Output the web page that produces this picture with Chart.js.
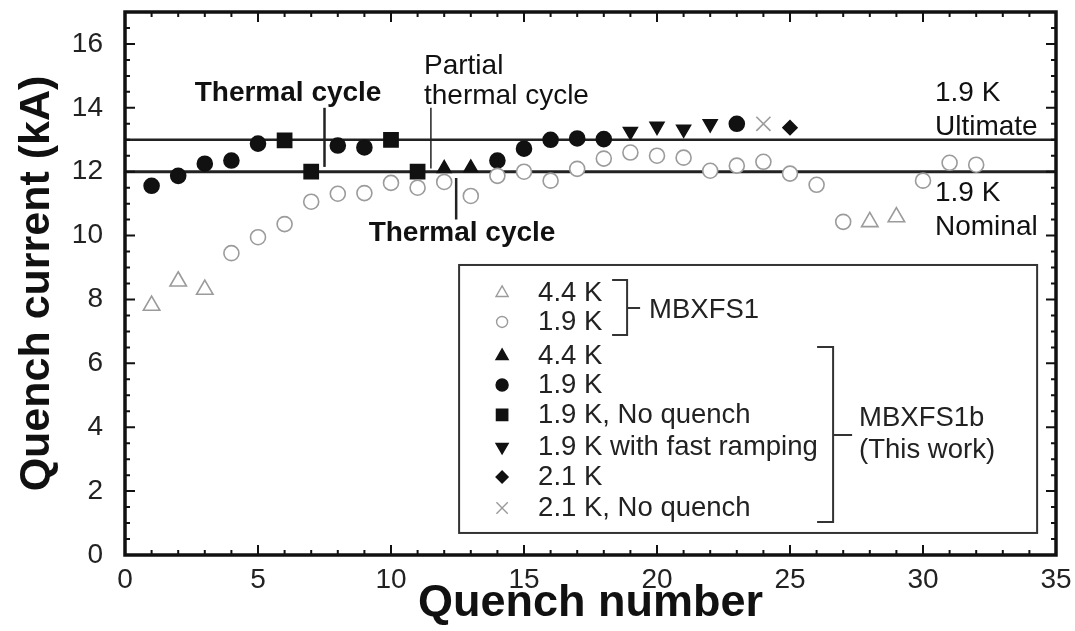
<!DOCTYPE html>
<html>
<head>
<meta charset="utf-8">
<script src="https://cdn.jsdelivr.net/npm/chart.js@4.4.1/dist/chart.umd.min.js"></script>
<style>
  html, body { margin: 0; padding: 0; background: #fff; }
  #wrap { width: 1075px; height: 631px; }
</style>
</head>
<body>
<div id="wrap"><canvas id="quenchChart" width="1075" height="631"></canvas></div>
<script>
var FONT = "'Liberation Sans', Arial, Helvetica, sans-serif";
var GREY = '#9b9b9b';
var INK = '#111';

// MBXFS1 (grey, open markers) : [quench number, current kA]
var fs1_44K = [[1, 7.81], [2, 8.57], [3, 8.31], [28, 10.43], [29, 10.58]];
var fs1_19K = [[4, 9.45], [5, 9.95], [6, 10.36], [7, 11.06], [8, 11.31], [9, 11.33],
               [10, 11.65], [11, 11.5], [12, 11.68], [13, 11.24], [14, 11.87], [15, 12.0],
               [16, 11.72], [17, 12.09], [18, 12.41], [19, 12.6], [20, 12.5], [21, 12.44],
               [22, 12.03], [23, 12.19], [24, 12.31], [25, 11.94], [26, 11.59], [27, 10.43],
               [30, 11.72], [31, 12.28], [32, 12.22]];

// MBXFS1b (this work, black markers)
var fs1b_44K = [[12, 12.1], [13, 12.12]];
var fs1b_19K = [[1, 11.56], [2, 11.87], [3, 12.25], [4, 12.35], [5, 12.88], [8, 12.82],
                [9, 12.76], [14, 12.35], [15, 12.72], [16, 13.0], [17, 13.04], [18, 13.02], [23, 13.5]];
var fs1b_19K_noQuench = [[6, 12.98], [7, 12.0], [10, 13.0], [11, 12.0]];
var fs1b_19K_fast = [[19, 13.26], [20, 13.42], [21, 13.33], [22, 13.5]];
var fs1b_21K = [[25, 13.38]];
var fs1b_21K_noQuench = [[24, 13.5]];

// reference levels (kA) and thermal cycle markers (quench number)
var nominal = 12.0;
var ultimate = 13.0;
var thermalCycle = 7.5;
var partialCycle = 11.5;
var thermalCycle2 = 12.45;

var xTicks = [0, 5, 10, 15, 20, 25, 30, 35];
var yTicks = [0, 2, 4, 6, 8, 10, 12, 14, 16];

function pts(arr) {
    return arr.map(function (p) { return { x: p[0], y: p[1] }; });
}

function markers(label, arr, style, r, color, fill, rot) {
    return {
        label: label,
        data: pts(arr),
        pointStyle: style,
        pointRadius: r,
        pointRotation: rot || 0,
        pointBorderWidth: 1.6,
        pointBorderColor: color,
        pointBackgroundColor: fill,
        showLine: false,
        order: 1
    };
}

function refLine(x0, y0, x1, y1, w) {
    return {
        type: 'line',
        data: [{ x: x0, y: y0 }, { x: x1, y: y1 }],
        borderColor: '#222',
        borderWidth: w,
        pointRadius: 0,
        order: 5
    };
}

var datasets = [
    markers('MBXFS1 4.4 K', fs1_44K, 'triangle', 9.5, GREY, '#fff'),
    markers('MBXFS1 1.9 K', fs1_19K, 'circle', 7.5, GREY, '#fff'),
    markers('4.4 K', fs1b_44K, 'triangle', 7.8, INK, INK),
    markers('1.9 K', fs1b_19K, 'circle', 7.5, INK, INK),
    markers('1.9 K, No quench', fs1b_19K_noQuench, 'rect', 10, INK, INK),
    markers('1.9 K with fast ramping', fs1b_19K_fast, 'triangle', 8, INK, INK, 180),
    markers('2.1 K', fs1b_21K, 'rectRot', 7, INK, INK),
    markers('2.1 K, No quench', fs1b_21K_noQuench, 'crossRot', 10, GREY, GREY),
    refLine(0, ultimate, 35, ultimate, 2.5),
    refLine(0, nominal, 35, nominal, 3),
    refLine(thermalCycle, 12.15, thermalCycle, 14.0, 2.5),
    refLine(partialCycle, 12.1, partialCycle, 14.0, 1.5),
    refLine(thermalCycle2, 11.8, thermalCycle2, 10.5, 2.5)
];

// text notes placed in data units
var notes = [
    { text: 'Thermal cycle', x: 6.13, y: 14.46, bold: true, align: 'center' },
    { text: 'Partial', x: 11.24, y: 15.31, align: 'left' },
    { text: 'thermal cycle', x: 11.24, y: 14.37, align: 'left' },
    { text: 'Thermal cycle', x: 12.67, y: 10.08, bold: true, align: 'center' },
    { text: '1.9 K', x: 30.45, y: 14.46, align: 'left' },
    { text: 'Ultimate', x: 30.45, y: 13.4, align: 'left' },
    { text: '1.9 K', x: 30.45, y: 11.33, align: 'left' },
    { text: 'Nominal', x: 30.45, y: 10.27, align: 'left' }
];

var legendRows = [
    { text: '4.4 K', style: 'triangle', r: 7, color: GREY, fill: '#fff' },
    { text: '1.9 K', style: 'circle', r: 5.5, color: GREY, fill: '#fff' },
    { text: '4.4 K', style: 'triangle', r: 7, color: INK, fill: INK },
    { text: '1.9 K', style: 'circle', r: 6, color: INK, fill: INK },
    { text: '1.9 K, No quench', style: 'rect', r: 8, color: INK, fill: INK },
    { text: '1.9 K with fast ramping', style: 'triangle', r: 7, color: INK, fill: INK, rot: 180 },
    { text: '2.1 K', style: 'rectRot', r: 6, color: INK, fill: INK },
    { text: '2.1 K, No quench', style: 'crossRot', r: 8, color: GREY, fill: GREY }
];
var legendRowY = [28, 57, 91, 120, 150, 182, 212, 243];

var frameTicks = {
    id: 'frameTicks',
    afterDraw: function (chart) {
        var ctx = chart.ctx, a = chart.chartArea;
        var xs = chart.scales.x, ys = chart.scales.y;
        ctx.save();
        ctx.strokeStyle = INK;
        ctx.lineWidth = 2;
        ctx.beginPath();
        for (var i = xs.min; i <= xs.max; i++) {
            var px = xs.getPixelForValue(i), len = i % 5 === 0 ? 10 : 5;
            ctx.moveTo(px, a.bottom); ctx.lineTo(px, a.bottom - len);
            ctx.moveTo(px, a.top); ctx.lineTo(px, a.top + len);
        }
        for (var v = ys.min; v <= ys.max; v += 0.5) {
            var py = ys.getPixelForValue(v), l2 = v % 2 === 0 ? 10 : 5;
            ctx.moveTo(a.left, py); ctx.lineTo(a.left + l2, py);
            ctx.moveTo(a.right, py); ctx.lineTo(a.right - l2, py);
        }
        ctx.stroke();
        ctx.lineWidth = 3.5;
        ctx.strokeRect(a.left, a.top, a.right - a.left, a.bottom - a.top);
        ctx.restore();
    }
};

var notesPlugin = {
    id: 'notes',
    afterDraw: function (chart) {
        var ctx = chart.ctx, xs = chart.scales.x, ys = chart.scales.y;
        ctx.save();
        ctx.fillStyle = INK;
        ctx.textBaseline = 'middle';
        notes.forEach(function (n) {
            ctx.font = (n.bold ? 'bold 28px ' : '28px ') + FONT;
            ctx.textAlign = n.align;
            ctx.fillText(n.text, xs.getPixelForValue(n.x), ys.getPixelForValue(n.y));
        });
        ctx.restore();
    }
};

var legendPlugin = {
    id: 'bracketLegend',
    afterDraw: function (chart) {
        var ctx = chart.ctx, xs = chart.scales.x, ys = chart.scales.y;
        var left = xs.getPixelForValue(12.56), top = ys.getPixelForValue(9.08);
        var right = xs.getPixelForValue(34.29), bottom = ys.getPixelForValue(0.69);
        ctx.save();
        ctx.strokeStyle = '#333';
        ctx.lineWidth = 2;
        ctx.strokeRect(left, top, right - left, bottom - top);

        ctx.font = '27.5px ' + FONT;
        ctx.textBaseline = 'middle';
        ctx.textAlign = 'left';
        legendRows.forEach(function (row, i) {
            var y = top + legendRowY[i];
            ctx.fillStyle = row.fill;
            ctx.strokeStyle = row.color;
            ctx.lineWidth = 1.4;
            Chart.helpers.drawPoint(ctx, { pointStyle: row.style, radius: row.r, rotation: row.rot || 0, borderWidth: 1.4 }, left + 43, y);
            ctx.fillStyle = '#222';
            ctx.fillText(row.text, left + 79, y);
        });

        // brackets
        ctx.strokeStyle = '#333';
        ctx.lineWidth = 2;
        ctx.beginPath();
        ctx.moveTo(left + 153, top + 15); ctx.lineTo(left + 168, top + 15);
        ctx.lineTo(left + 168, top + 70); ctx.lineTo(left + 153, top + 70);
        ctx.moveTo(left + 168, top + 43); ctx.lineTo(left + 181, top + 43);
        ctx.moveTo(left + 358, top + 82); ctx.lineTo(left + 374, top + 82);
        ctx.lineTo(left + 374, top + 257); ctx.lineTo(left + 358, top + 257);
        ctx.moveTo(left + 374, top + 170); ctx.lineTo(left + 393, top + 170);
        ctx.stroke();

        ctx.fillStyle = '#222';
        ctx.fillText('MBXFS1', left + 190, top + 45);
        ctx.fillText('MBXFS1b', left + 400, top + 153);
        ctx.fillText('(This work)', left + 400, top + 185);
        ctx.restore();
    }
};

var ctx = document.getElementById('quenchChart').getContext('2d');
new Chart(ctx, {
    type: 'scatter',
    data: { datasets: datasets },
    options: {
        responsive: false,
        animation: false,
        layout: { padding: { top: 12, right: 19, left: 0, bottom: 0 } },
        plugins: { legend: { display: false }, tooltip: { enabled: false } },
        scales: {
            x: {
                type: 'linear', min: 0, max: 35,
                grid: { display: false, drawTicks: false },
                border: { display: false },
                afterBuildTicks: function (s) { s.ticks = xTicks.map(function (v) { return { value: v }; }); },
                ticks: { color: '#222', padding: 8, maxRotation: 0, font: { family: FONT, size: 28 } },
                title: { display: true, text: 'Quench number', color: INK,
                         font: { family: FONT, size: 45, weight: 'bold' }, padding: { top: 0, bottom: 0 } },
                afterFit: function (s) { s.height = 76; s.paddingLeft = 0; s.paddingRight = 0; }
            },
            y: {
                type: 'linear', min: 0, max: 17,
                grid: { display: false, drawTicks: false },
                border: { display: false },
                afterBuildTicks: function (s) { s.ticks = yTicks.map(function (v) { return { value: v }; }); },
                ticks: { color: '#222', padding: 22, font: { family: FONT, size: 28 } },
                title: { display: true, text: 'Quench current (kA)', color: INK,
                         font: { family: FONT, size: 43, weight: 'bold' }, padding: { top: 11, bottom: 0 } },
                afterFit: function (s) { s.width = 125; s.paddingTop = 0; s.paddingBottom = 0; }
            }
        }
    },
    plugins: [frameTicks, notesPlugin, legendPlugin]
});
</script>
</body>
</html>
